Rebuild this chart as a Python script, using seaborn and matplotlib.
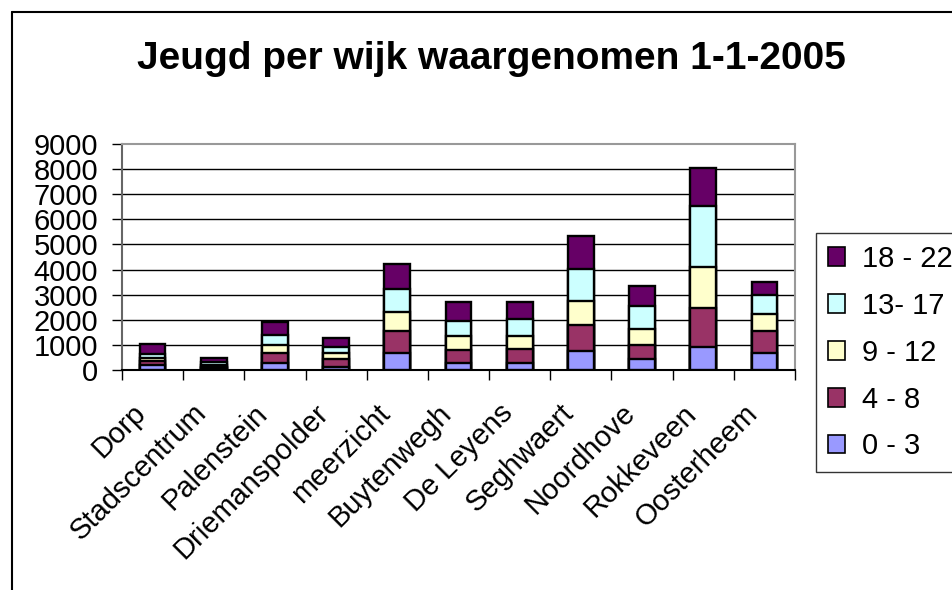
import matplotlib
matplotlib.use("Agg")
import matplotlib.pyplot as plt
import seaborn as sns
import numpy as np
import pandas as pd
from matplotlib.patches import Patch
from matplotlib.lines import Line2D

categories = ["Dorp", "Stadscentrum", "Palenstein", "Driemanspolder", "meerzicht",
              "Buytenwegh", "De Leyens", "Seghwaert", "Noordhove", "Rokkeveen", "Oosterheem"]
age_0_3 = [210, 60, 280, 120, 690, 280, 280, 770, 450, 920, 690]
age_4_8 = [140, 70, 400, 320, 870, 505, 570, 1025, 560, 1530, 870]
age_9_12 = [130, 60, 330, 240, 740, 555, 510, 955, 640, 1670, 670]
age_13_17 = [160, 110, 400, 240, 945, 630, 670, 1290, 880, 2395, 775]
age_18_22 = [400, 170, 490, 360, 985, 740, 680, 1290, 820, 1530, 495]
series_labels = ["0 - 3", "4 - 8", "9 - 12", "13- 17", "18 - 22"]
colors = ["#9999FF", "#993366", "#FFFFCC", "#CCFFFF", "#660066"]

sns.set_style("white")
plt.rcParams['font.family'] = ['Liberation Sans', 'DejaVu Sans']
plt.rcParams['text.color'] = 'black'
plt.rcParams['xtick.labelcolor'] = 'black'
plt.rcParams['ytick.labelcolor'] = 'black'

fig = plt.figure(figsize=(9.53, 5.90), dpi=100)
ax = fig.add_axes([122/953, 1 - 370/590, (795-122)/953, (370-144)/590])

series = [age_0_3, age_4_8, age_9_12, age_13_17, age_18_22]
cum = np.cumsum(np.array(series), axis=0)

for i in range(4, -1, -1):
    df = pd.DataFrame({"wijk": categories, "v": cum[i]})
    sns.barplot(data=df, x="wijk", y="v", color=colors[i], edgecolor="black",
                linewidth=1.7, width=0.42, saturation=1, ax=ax, zorder=3)

ax.set_ylim(0, 9000)
ax.set_xlim(-0.5, len(categories) - 0.5)
ax.set_yticks(np.arange(0, 9001, 1000))
ax.set_yticklabels([str(v) for v in range(0, 9001, 1000)], fontsize=21)
for y in range(1000, 9000, 1000):
    ax.axhline(y, color="black", lw=1.0, zorder=1)

ax.set_xticks(np.arange(-0.5, len(categories), 1.0), minor=False)
ax.set_xticklabels([])
ax.tick_params(axis="x", which="major", direction="out", length=7.2, width=1, color="black", bottom=True)
ax.tick_params(axis="y", direction="out", length=7.2, width=1, color="black", left=True, pad=10)
for i, c in enumerate(categories):
    ax.text(i - 0.35, -0.128, c, transform=ax.get_xaxis_transform(), rotation=45,
            ha="right", va="top", rotation_mode="anchor", fontsize=21)

ax.set_xlabel("")
ax.set_ylabel("")
for s in ["top", "right"]:
    ax.spines[s].set_color("#999999")
    ax.spines[s].set_linewidth(1.5)
ax.spines["left"].set_color("#666666")
ax.spines["left"].set_linewidth(1.5)
ax.spines["bottom"].set_color("black")
ax.spines["bottom"].set_linewidth(1.5)

handles = [Patch(facecolor=colors[i], edgecolor="black", linewidth=1.2, label=series_labels[i])
           for i in range(4, -1, -1)]
leg = fig.legend(handles=handles, loc="upper left", bbox_to_anchor=(816/953, 1 - 233/590),
                 frameon=True, fontsize=21, handlelength=0.6, handleheight=0.6,
                 labelspacing=0.65, handletextpad=0.58, borderpad=0.4, fancybox=False,
                 borderaxespad=0)
leg.get_frame().set_edgecolor("black")
leg.get_frame().set_linewidth(1.0)

fig.text(491/953, 1 - 59/590, "Jeugd per wijk waargenomen 1-1-2005", ha="center", va="center",
         fontsize=28, fontweight="bold")

fig.add_artist(Line2D([12/953, 1.0], [1 - 12/590, 1 - 12/590], color="black", lw=1.5))
fig.add_artist(Line2D([12/953, 12/953], [1 - 12/590, 0.0], color="black", lw=1.5))

fig.savefig("out.png", dpi=100)
